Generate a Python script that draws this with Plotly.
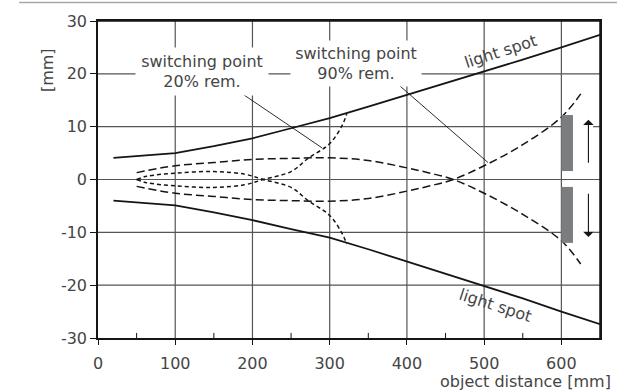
import plotly.graph_objects as go

# ---- data ----
spot_x = [20, 100, 150, 200, 250, 300, 350, 400, 450, 500, 550, 600, 650]
spot_upper = [4.1, 5.0, 6.3, 7.8, 9.7, 11.6, 13.8, 16.0, 18.2, 20.4, 22.7, 25.0, 27.4]
spot_lower = [-4.0, -4.9, -6.2, -7.7, -9.4, -11.0, -13.2, -15.5, -17.8, -20.1, -22.5, -25.0, -27.4]

rem90_x = [50, 100, 150, 200, 250, 300, 350, 400, 430, 460, 500, 550, 600, 625]
rem90_a = [1.3, 2.6, 3.2, 3.8, 4.0, 4.1, 3.6, 2.2, 1.2, 0.0, -2.6, -6.6, -11.6, -16.0]
rem90_b = [-1.3, -2.6, -3.2, -3.8, -4.0, -4.1, -3.6, -2.2, -1.2, 0.0, 2.6, 6.6, 11.8, 16.2]

rem20_x = [50, 63, 100, 150, 190, 214, 250, 272, 300, 316, 322]
rem20_a = [0.0, 0.6, 1.2, 1.5, 1.0, 0.0, -1.5, -4.0, -6.8, -10.2, -12.2]
rem20_b = [0.0, -0.6, -1.2, -1.5, -1.0, 0.0, 1.5, 4.0, 6.8, 10.2, 12.4]

leader20_x = [182, 290]
leader20_y = [16.7, 6.0]
leader90_x = [387, 505]
leader90_y = [18.2, 3.2]

x_ticks = [0, 100, 200, 300, 400, 500, 600]
x_ticktext = ["0", "100", "200", "300", "400", "500", "600"]
x_minor = [50, 150, 250, 350, 450, 550]
y_ticks = [-30, -20, -10, 0, 10, 20, 30]
y_ticktext = ["-30", "-20", "-10", "0", "10", "20", "30"]

label20 = "switching point<br>20% rem."
label90 = "switching point<br>90% rem."
spot_label = "light spot"

FONT = "DejaVu Sans"
TXT = "#454545"
LINE = "#151515"
GRID = "#555555"
X_RANGE = [0, 650]
Y_RANGE = [-30, 30]
# clear area around the arrows at the right (grid interrupted there)
GAP_X = [600, 641]
GAP_Y = [-13.5, 13.5]

fig = go.Figure()

# grid lines built from the tick arrays
gx, gy = [], []
for xv in x_ticks[1:]:
    gx += [xv, xv, None]
    gy += [Y_RANGE[0], Y_RANGE[1], None]
for yv in y_ticks[1:-1]:
    if yv != 0 and GAP_Y[0] < yv < GAP_Y[1]:
        gx += [X_RANGE[0], GAP_X[0], None, GAP_X[1], X_RANGE[1], None]
        gy += [yv, yv, None, yv, yv, None]
    else:
        gx += [X_RANGE[0], X_RANGE[1], None]
        gy += [yv, yv, None]
fig.add_trace(go.Scatter(x=gx, y=gy, mode="lines", hoverinfo="skip",
                         line=dict(color=GRID, width=1.2)))
# top / right frame
fig.add_trace(go.Scatter(x=[X_RANGE[0], X_RANGE[1], X_RANGE[1]],
                         y=[Y_RANGE[1], Y_RANGE[1], Y_RANGE[0]], mode="lines",
                         hoverinfo="skip", cliponaxis=False,
                         line=dict(color=LINE, width=1.5)))

fig.add_trace(go.Scatter(x=spot_x, y=spot_upper, mode="lines",
                         line=dict(color=LINE, width=1.8)))
fig.add_trace(go.Scatter(x=spot_x, y=spot_lower, mode="lines",
                         line=dict(color=LINE, width=1.8)))
for ys in (rem90_a, rem90_b):
    fig.add_trace(go.Scatter(x=rem90_x, y=ys, mode="lines", line_shape="spline",
                             line=dict(color=LINE, width=1.5, dash="8px,4px")))
for ys in (rem20_a, rem20_b):
    fig.add_trace(go.Scatter(x=rem20_x, y=ys, mode="lines", line_shape="spline",
                             line=dict(color=LINE, width=1.5, dash="4px,3px")))
fig.add_trace(go.Scatter(x=leader20_x, y=leader20_y, mode="lines",
                         line=dict(color=LINE, width=0.9)))
fig.add_trace(go.Scatter(x=leader90_x, y=leader90_y, mode="lines",
                         line=dict(color=LINE, width=0.9)))

# minor ticks on the x axis (inside)
for xv in x_minor:
    fig.add_shape(type="line", xref="x", yref="paper", x0=xv, x1=xv, y0=0, y1=0.016,
                  line=dict(color=LINE, width=1), layer="above")
# grey sensor blocks at right
fig.add_shape(type="rect", x0=600, x1=615, y0=1.6, y1=12.2, xref="x", yref="y",
              fillcolor="#7b7d80", line_width=0, layer="above")
fig.add_shape(type="rect", x0=600, x1=615, y0=-12.0, y1=-1.4, xref="x", yref="y",
              fillcolor="#7b7d80", line_width=0, layer="above")

# top grey rule
fig.add_shape(type="line", xref="paper", yref="paper", x0=-0.157, x1=1.04,
              y0=1.058, y1=1.058, line=dict(color="#a8a8a8", width=1.5))

annos = []
annos.append(dict(x=134.6, y=20.4, xref="x", yref="y", text=label20, showarrow=False,
                  bgcolor="white", width=130, height=45, align="center",
                  font=dict(family=FONT, size=16, color=TXT)))
annos.append(dict(x=334, y=21.9, xref="x", yref="y", text=label90, showarrow=False,
                  bgcolor="white", width=128, height=43, align="center",
                  font=dict(family=FONT, size=16, color=TXT)))
annos.append(dict(x=521, y=24.3, xref="x", yref="y", text=spot_label, showarrow=False,
                  textangle=-18, font=dict(family=FONT, size=16, color=TXT)))
annos.append(dict(x=515, y=-23.8, xref="x", yref="y", text=spot_label, showarrow=False,
                  textangle=18, font=dict(family=FONT, size=16, color=TXT)))
# arrows
annos.append(dict(x=635, y=11.3, ax=635, ay=2.9, xref="x", yref="y", axref="x", ayref="y",
                  text="", showarrow=True, arrowhead=1, arrowsize=1.6, arrowwidth=1.1,
                  arrowcolor=LINE))
annos.append(dict(x=635, y=-10.9, ax=635, ay=-2.4, xref="x", yref="y", axref="x", ayref="y",
                  text="", showarrow=True, arrowhead=1, arrowsize=1.6, arrowwidth=1.1,
                  arrowcolor=LINE))
annos.append(dict(x=-0.123, y=0.92, xref="paper", yref="paper", text="[mm]", textangle=-90,
                  showarrow=False, font=dict(family=FONT, size=16, color=TXT)))
annos.append(dict(x=1.026, y=-0.137, xref="paper", yref="paper", text="object distance [mm]",
                  showarrow=False, xanchor="right", yanchor="middle",
                  font=dict(family=FONT, size=16, color=TXT)))

fig.update_layout(
    width=617, height=392,
    margin=dict(l=98, r=17, t=18, b=54),
    paper_bgcolor="white", plot_bgcolor="white",
    showlegend=False,
    annotations=annos,
    font=dict(family=FONT, size=16, color=TXT),
)
fig.update_layout(
    xaxis=dict(range=X_RANGE, tickmode="array", tickvals=x_ticks, ticktext=x_ticktext,
               showgrid=False, zeroline=False,
               showline=True, linecolor=LINE, linewidth=1.5, mirror=True,
               ticks="outside", ticklen=5, tickcolor=LINE, tickwidth=1,
               ticklabelstandoff=5),
    yaxis=dict(range=Y_RANGE, tickmode="array", tickvals=y_ticks, ticktext=y_ticktext,
               ticksuffix="\u00a0\u00a0", showgrid=False,
               zeroline=False, showline=True, linecolor=LINE, linewidth=1.5, mirror=True,
               ticks="outside", ticklen=6, tickcolor=LINE, tickwidth=1),
)

fig.write_html("out.html")
